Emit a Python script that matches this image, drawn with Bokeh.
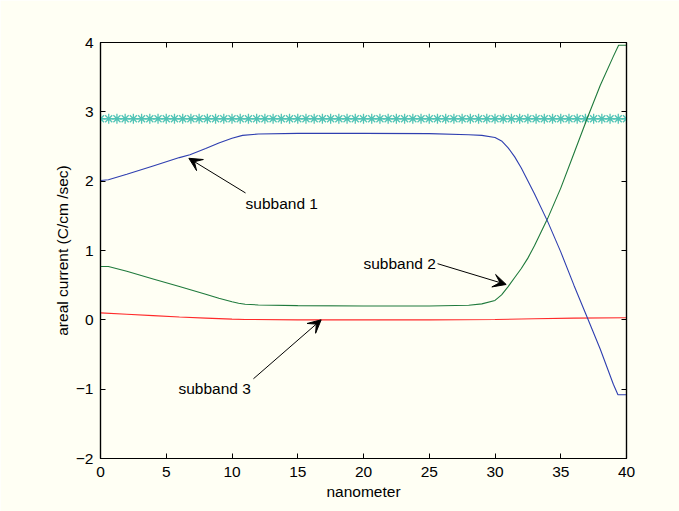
import numpy as np
from bokeh.plotting import figure
from bokeh.models import Range1d, LinearAxis, FixedTicker, Arrow, VeeHead, Label
from bokeh.embed import file_html
from bokeh.resources import INLINE

# ---- data ----
x1 = [0, 0.6, 2, 4, 6, 6.8, 8, 9, 10, 10.8, 12, 15, 20, 25, 28, 29, 30, 30.5, 31, 31.5, 32,
      33, 34, 35, 36, 37, 38, 39, 39.35, 40]
subband1 = [2.01, 2.02, 2.10, 2.22, 2.34, 2.38, 2.47, 2.55, 2.62, 2.66, 2.68, 2.69, 2.69, 2.685,
            2.67, 2.66, 2.63, 2.58, 2.48, 2.35, 2.19, 1.82, 1.42, 0.98, 0.5, 0.04, -0.42, -0.93,
            -1.08, -1.08]

x2 = [0, 0.6, 2, 4, 6, 8, 9, 10, 10.5, 11, 12, 15, 20, 25, 28, 29, 30, 30.5, 31, 31.5, 32, 32.5,
      33, 34, 35, 36, 37, 38, 39, 39.4, 40]
subband2 = [0.77, 0.77, 0.70, 0.59, 0.48, 0.37, 0.31, 0.26, 0.24, 0.225, 0.215, 0.205, 0.20, 0.20,
            0.21, 0.23, 0.28, 0.36, 0.48, 0.61, 0.74, 0.89, 1.07, 1.46, 1.90, 2.40, 2.90, 3.38,
            3.80, 3.96, 3.96]

x3 = [0, 2, 4, 6, 8, 10, 11, 15, 20, 25, 30, 33, 36, 40]
subband3 = [0.10, 0.08, 0.06, 0.04, 0.025, 0.01, 0.005, 0.0, 0.0, 0.0, 0.005, 0.015, 0.025, 0.03]

x_star = list(np.linspace(0, 40, 65))
star_level = [2.9] * 65

x_ticks = [0, 5, 10, 15, 20, 25, 30, 35, 40]
y_ticks = [-2, -1, 0, 1, 2, 3, 4]

ann_text = ["subband 1", "subband 2", "subband 3"]
ann_text_x = [11.03, 20.0, 5.93]
ann_text_y = [1.68, 0.81, -0.99]
arrow_x0 = [11.03, 25.63, 11.63]
arrow_y0 = [1.83, 0.81, -0.85]
arrow_x1 = [6.72, 30.85, 16.78]
arrow_y1 = [2.33, 0.51, 0.0]

FONT = "Liberation Sans"
FS = "15.5px"
BG = "#fffff4"

p = figure(output_backend="svg", toolbar_location=None,
           frame_width=526, frame_height=416,
           min_border_left=100, min_border_right=53, min_border_top=42, min_border_bottom=53,
           x_range=Range1d(0, 40), y_range=Range1d(-2, 4),
           background_fill_color=BG, border_fill_color=BG)
p.grid.visible = False
p.outline_line_color = "black"
p.outline_line_width = 1.2

p.xaxis.axis_label = "nanometer"
p.yaxis.axis_label = "areal current (C/cm /sec)"

p.add_layout(LinearAxis(), "above")
p.add_layout(LinearAxis(), "right")

for ax in p.axis:
    ax.major_tick_in = 5
    ax.major_tick_out = 0
    ax.minor_tick_line_color = None
    ax.axis_line_color = "black"
    ax.axis_line_width = 1.2
    ax.major_tick_line_color = "black"
    ax.major_label_text_font = FONT
    ax.major_label_text_font_size = FS
    ax.major_label_text_color = "black"
    ax.axis_label_text_font = FONT
    ax.axis_label_text_font_size = FS
    ax.axis_label_text_font_style = "normal"
    ax.axis_label_text_color = "black"

for ax in p.xaxis:
    ax.ticker = FixedTicker(ticks=x_ticks)
for ax in p.yaxis:
    ax.ticker = FixedTicker(ticks=y_ticks)
    ax.major_label_overrides = {t: (str(t).replace("-", "\u2212")) for t in y_ticks}

p.above[0].major_label_overrides = {t: "" for t in x_ticks}
p.right[0].major_label_overrides = {t: "" for t in y_ticks}

p.below[0].major_label_standoff = 8
p.below[0].axis_label_standoff = 3
p.left[0].major_label_standoff = 7
p.left[0].axis_label_standoff = 2

# stars
p.line(x_star, star_level, line_color="#5cc8bb", line_width=1)
p.scatter(x_star, star_level, marker="asterisk", size=10, line_color="#52c4b6", line_width=1.3)

p.line(x3, subband3, line_color="#ff2a2a", line_width=1.1)
p.line(x2, subband2, line_color="#1f7a3c", line_width=1.1)
p.line(x1, subband1, line_color="#2f3fb0", line_width=1.1)

for t, tx, ty, a0, b0, a1, b1 in zip(ann_text, ann_text_x, ann_text_y,
                                     arrow_x0, arrow_y0, arrow_x1, arrow_y1):
    p.add_layout(Label(x=tx, y=ty, text=t, text_font=FONT, text_font_size=FS,
                       text_baseline="middle", text_align="left", text_color="black"))
    p.add_layout(Arrow(x_start=a0, y_start=b0, x_end=a1, y_end=b1, line_width=1,
                       line_color="black",
                       end=VeeHead(size=13, fill_color="black", line_color="black")))

open("out.html", "w").write(file_html(p, INLINE))
